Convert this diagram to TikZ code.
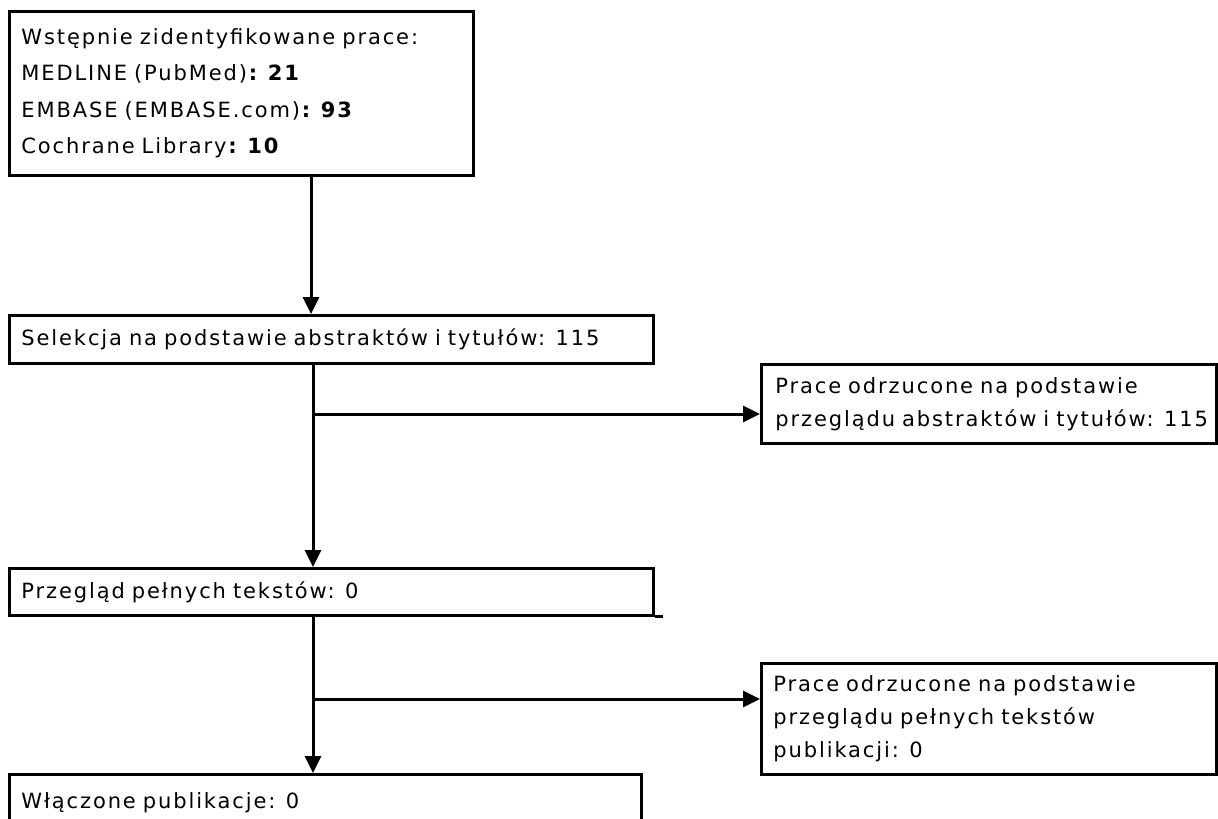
\documentclass[tikz,border=0pt]{standalone}
\usepackage{fontspec}
\setmainfont{DejaVu Sans}[LetterSpace=9,WordSpace=1.3]
\usetikzlibrary{arrows.meta}
\tikzset{
  box/.style={draw=black, line width=2.8pt, anchor=north west, align=left,
    inner xsep=12pt, inner ysep=0pt, font=\fontsize{21pt}{33pt}\selectfont},
  link/.style={line width=2.8pt},
  arr/.style={line width=3pt, -{Triangle[width=16pt,length=17pt]}}
}
\begin{document}
\begin{tikzpicture}[x=1pt,y=-1pt]
\clip (0,0) rectangle (1218,819);
\fill[white] (0,0) rectangle (1218,819);
% boxes
\node[box, minimum width=464pt, minimum height=164pt, text width=440pt,
      font=\fontsize{21pt}{36.5pt}\selectfont] (b1) at (8,10)
  {Wstępnie zidentyfikowane prace:\\
   MEDLINE (PubMed)\textbf{: 21}\\
   EMBASE (EMBASE.com)\textbf{: 93}\\
   Cochrane Library\textbf{: 10}};
\node[box, minimum width=644pt, minimum height=48pt, text width=620pt] (b2) at (8,314)
  {Selekcja na podstawie abstraktów i tytułów: 115};
\node[box, minimum width=455pt, minimum height=79pt, text width=437pt, inner xsep=9pt] (b4) at (760,363)
  {\hspace*{5pt}Prace odrzucone na podstawie\\\hspace*{5pt}przeglądu abstraktów i tytułów: 115};
\node[box, minimum width=644pt, minimum height=47pt, text width=620pt] (b3) at (8,567)
  {Przegląd pełnych tekstów: 0};
\coordinate (b3tail) at (663,614);
\draw[link] (b3.south east) -- (b3.south east -| b3tail);
\node[box, minimum width=455pt, minimum height=111pt, text width=431pt] (b6) at (760,662)
  {Prace odrzucone na podstawie\\przeglądu pełnych tekstów\\publikacji: 0};
\node[box, minimum width=632pt, minimum height=56pt, text width=608pt] (b5) at (8,773)
  {Włączone publikacje: 0};
% connectors
\coordinate (c1) at (311,0);
\coordinate (c2) at (313,0);
\coordinate (j1) at (313,414);
\coordinate (j2) at (313,699);
\draw[arr] (b1.south -| c1) -- (b2.north -| c1);
\draw[arr] (b2.south -| c2) -- (b3.north -| c2);
\draw[arr] (j1) -- (b4.west |- j1);
\draw[arr] (b3.south -| c2) -- (b5.north -| c2);
\draw[arr] (j2) -- (b6.west |- j2);
\end{tikzpicture}
\end{document}
